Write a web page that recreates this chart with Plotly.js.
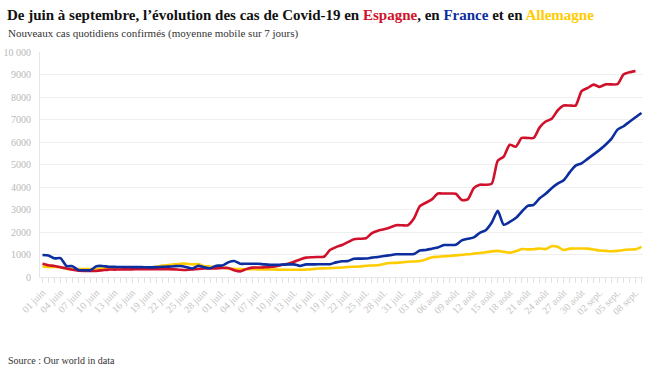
<!DOCTYPE html>
<html>
<head>
<meta charset="utf-8">
<script src="https://cdn.plot.ly/plotly-3.0.1.min.js"></script>
<style>html,body{margin:0;padding:0;background:#fff;}#chart{width:661px;height:372px;}</style>
</head>
<body>
<div id="chart"></div>
<script>
// First day of the series (one value per day)
const startDate = '2020-06-01';

// Spain (7-day moving average of new daily cases)
const espagne = [590,520,490,430,380,320,280,270,265,270,300,330,330,335,340,340,345,345,350,350,
  350,350,340,320,310,330,360,380,385,385,400,400,300,250,350,415,420,430,445,480,
  540,590,680,780,860,880,890,900,1200,1330,1420,1550,1680,1700,1720,1950,2060,2120,2200,2300,
  2300,2300,2600,3150,3300,3450,3710,3710,3710,3700,3420,3450,3950,4100,4100,4150,5170,5350,5880,5790,
  6180,6180,6180,6650,6910,7030,7400,7620,7620,7620,8260,8400,8550,8450,8560,8560,8570,9000,9100,9150];

// France
const france = [980,960,830,840,490,480,310,300,300,480,490,455,450,445,445,440,440,435,430,440,
  450,460,480,490,440,380,500,430,390,500,510,650,710,590,590,590,590,560,540,540,
  550,560,560,490,560,560,565,565,570,650,700,710,810,815,820,860,890,930,970,1010,
  1010,1010,1020,1180,1200,1260,1310,1420,1420,1430,1630,1700,1760,1960,2080,2420,2940,2320,2450,2620,
  2900,3160,3210,3500,3700,3950,4150,4300,4650,4950,5050,5250,5450,5650,5880,6150,6550,6700,6900,7100,
  7290];

// Germany
const allemagne = [470,450,445,430,370,345,350,350,350,340,385,385,385,385,385,385,390,400,420,450,
  505,530,560,590,590,560,575,480,470,440,415,380,360,350,345,345,340,340,335,330,
  325,320,320,320,330,345,380,385,395,410,420,445,455,465,500,510,520,580,620,630,
  650,680,690,710,780,880,900,920,935,960,990,1010,1040,1070,1100,1140,1160,1115,1080,1145,
  1240,1230,1235,1270,1240,1370,1340,1200,1260,1270,1265,1260,1220,1175,1160,1145,1160,1200,1220,1230,
  1340];

// x-axis labels (every third day)
const tickLabels = ['01 juin','04 juin','07 juin','10 juin','13 juin','16 juin','19 juin','22 juin','25 juin','28 juin',
  '01 juil.','04 juil.','07 juil.','10 juil.','13 juil.','16 juil.','19 juil.','22 juil.','25 juil.','28 juil.','31 juil.',
  '03 août','06 août','09 août','12 août','15 août','18 août','21 août','24 août','27 août','30 août',
  '02 sept.','05 sept.','08 sept.'];

// y-axis labels
const yTickVals = [0,1000,2000,3000,4000,5000,6000,7000,8000,9000,10000];
const yTickText = ['0','1000','2000','3000','4000','5000','6000','7000','8000','9000','10 000'];

const colSpain = '#d0112b', colFrance = '#0c2e9e', colGermany = '#ffcc00';

function dayList(n) {
  const out = [];
  const base = new Date(startDate + 'T00:00:00Z');
  for (let i = 0; i < n; i++) {
    const d = new Date(base.getTime() + i * 86400000);
    out.push(d.toISOString().slice(0, 10));
  }
  return out;
}
const nDays = Math.max(espagne.length, france.length, allemagne.length);
const days = dayList(nDays);
const tickVals = days;
const tickText = days.map((d, i) => (i % 3 === 0 ? (tickLabels[i / 3] || '') : ''));

const lineCommon = {type: 'scatter', mode: 'lines', hoverinfo: 'skip', line: {shape: 'spline', smoothing: 0.6, width: 2.6}};
const traces = [
  Object.assign({}, lineCommon, {x: days.slice(0, allemagne.length), y: allemagne, name: 'Allemagne', line: Object.assign({}, lineCommon.line, {color: colGermany})}),
  Object.assign({}, lineCommon, {x: days.slice(0, espagne.length), y: espagne, name: 'Espagne', line: Object.assign({}, lineCommon.line, {color: colSpain})}),
  Object.assign({}, lineCommon, {x: days.slice(0, france.length), y: france, name: 'France', line: Object.assign({}, lineCommon.line, {color: colFrance})})
];

const serif = 'Liberation Serif, Times New Roman, serif';
const layout = {
  width: 661, height: 372,
  margin: {l: 40, r: 18, t: 52, b: 95, pad: 0},
  paper_bgcolor: '#fff', plot_bgcolor: '#fff',
  showlegend: false,
  font: {family: serif, color: '#333'},
  title: {
    text: 'De juin à septembre, l’évolution des cas de Covid-19 en <span style="color:' + colSpain + '">Espagne</span>, en <span style="color:' + colFrance + '">France</span> et en <span style="color:' + colGermany + '">Allemagne</span>',
    font: {family: serif, size: 15, color: '#111', weight: 'bold'},
    x: 7 / 661, xref: 'container', xanchor: 'left',
    y: 1 - 15 / 372, yref: 'container', yanchor: 'middle'
  },
  xaxis: {
    type: 'date',
    range: ['2020-05-31 14:00', '2020-09-09 06:00'],
    tickmode: 'array', tickvals: tickVals, ticktext: tickText,
    tickangle: -45,
    ticks: 'outside', ticklen: 5, tickwidth: 1, tickcolor: '#e2e2e2',
    tickfont: {family: serif, size: 10, color: '#c4c4c4'},
    showgrid: false, zeroline: false,
    showline: true, linecolor: '#e6e6e6', linewidth: 1,
    fixedrange: true
  },
  yaxis: {
    range: [0, 10000],
    tickmode: 'array', tickvals: yTickVals, ticktext: yTickText,
    tickfont: {family: serif, size: 10, color: '#b8b8b8'},
    ticks: '', ticklabelstandoff: 6,
    showgrid: true, gridcolor: '#efefef', gridwidth: 1,
    zeroline: false,
    showline: true, linecolor: '#e6e6e6', linewidth: 1,
    fixedrange: true
  },
  annotations: [
    {
      text: 'Nouveaux cas quotidiens confirmés (moyenne mobile sur 7 jours)',
      xref: 'paper', yref: 'paper', x: (6 - 40) / 603, y: (276.7 - 33) / 225,
      xanchor: 'left', yanchor: 'middle', showarrow: false,
      font: {family: serif, size: 11, color: '#333'}
    },
    {
      text: 'Source : Our world in data',
      xref: 'paper', yref: 'paper', x: (6 - 40) / 603, y: (276.7 - 360) / 225,
      xanchor: 'left', yanchor: 'middle', showarrow: false,
      font: {family: serif, size: 10, color: '#333'}
    }
  ]
};

Plotly.newPlot('chart', traces, layout, {displayModeBar: false, staticPlot: true});
</script>
</body>
</html>
